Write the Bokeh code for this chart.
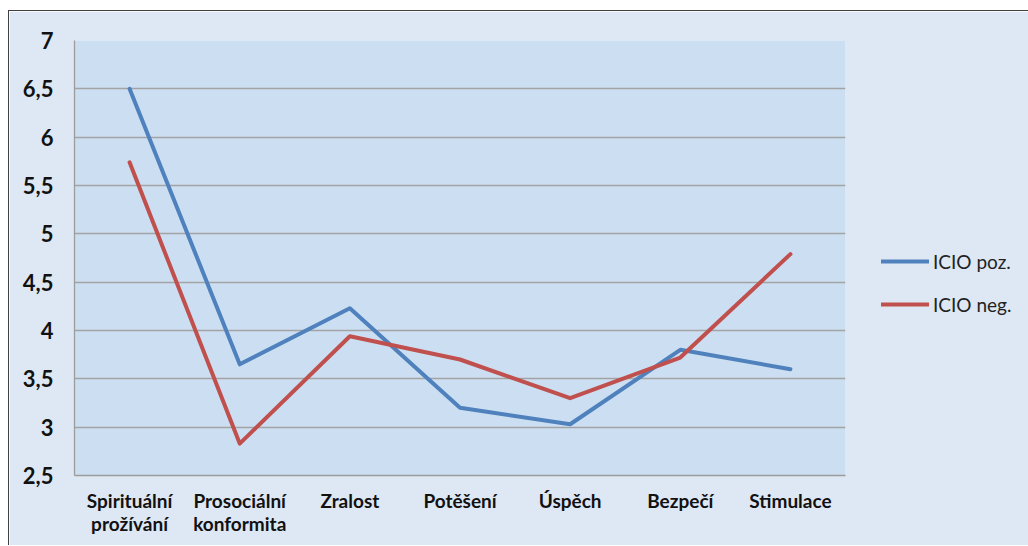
from bokeh.plotting import figure
from bokeh.models import FactorRange, Range1d, FixedTicker, Legend, LegendItem, Spacer
from bokeh.layouts import column, row
from bokeh.embed import file_html
from bokeh.resources import INLINE

categories = ["Spirituální\nprožívání", "Prosociální\nkonformita", "Zralost",
              "Potěšení", "Úspěch", "Bezpečí", "Stimulace"]
icio_poz = [6.50, 3.65, 4.23, 3.20, 3.03, 3.80, 3.60]
icio_neg = [5.74, 2.83, 3.94, 3.70, 3.30, 3.72, 4.79]
series_names = ["ICIO poz.", "ICIO neg."]
y_ticks = [2.5, 3, 3.5, 4, 4.5, 5, 5.5, 6, 6.5, 7]
y_tick_labels = ["2,5", "3", "3,5", "4", "4,5", "5", "5,5", "6", "6,5", "7"]

BLUE = "#4F81BD"
RED = "#C0504D"
OUTER = "#DEE8F4"
INNER = "#CCDEF2"
GRID = "#A3A3A3"

p = figure(x_range=FactorRange(*categories), y_range=Range1d(2.5, 7),
           frame_width=770, frame_height=434, output_backend="svg", toolbar_location=None,
           min_border_left=65, min_border_right=183, min_border_top=29, min_border_bottom=71)
p.styles = {"border-top": "1px solid #404040", "border-left": "1px solid #404040"}
p.background_fill_color = INNER
p.border_fill_color = OUTER
p.outline_line_color = None

r1 = p.line(categories, icio_poz, line_color=BLUE, line_width=4, line_cap="round", line_join="round")
r2 = p.line(categories, icio_neg, line_color=RED, line_width=4, line_cap="round", line_join="round")

p.xgrid.grid_line_color = None
p.ygrid.grid_line_color = GRID
p.ygrid.grid_line_width = 1.3
p.yaxis.ticker = FixedTicker(ticks=y_ticks)
p.yaxis.major_label_overrides = {t: l for t, l in zip(y_ticks, y_tick_labels)}

for ax in (p.xaxis[0], p.yaxis[0]):
    ax.axis_line_color = "#9C9C9C"
    ax.axis_line_width = 1.3
    ax.major_tick_line_color = None
    ax.minor_tick_line_color = None
    ax.major_tick_out = 0
    ax.major_tick_in = 0
    ax.major_label_text_font = "Lato"
    ax.major_label_text_font_style = "bold"
    ax.major_label_text_color = "#111111"

p.yaxis.major_label_text_font_size = "22px"
p.yaxis.major_label_standoff = 21
p.xaxis.major_label_text_font_size = "19px"
p.xaxis.major_label_text_line_height = 1.0
p.xaxis.major_label_standoff = 13

legend = Legend(items=[LegendItem(label=series_names[0], renderers=[r1]),
                       LegendItem(label=series_names[1], renderers=[r2])],
                location=(36, 159))
legend.border_line_color = None
legend.background_fill_alpha = 0
legend.padding = 0
legend.margin = 0
legend.glyph_width = 48
legend.glyph_height = 24
legend.label_height = 24
legend.spacing = 19
legend.label_standoff = 4
legend.label_text_font = "Lato"
legend.label_text_font_size = "19px"
legend.label_text_color = "#222222"
p.add_layout(legend, "right")

layout = row(Spacer(width=8, height=545), column(Spacer(height=10, width=1019), p))
open("out.html", "w").write(file_html(layout, INLINE))
